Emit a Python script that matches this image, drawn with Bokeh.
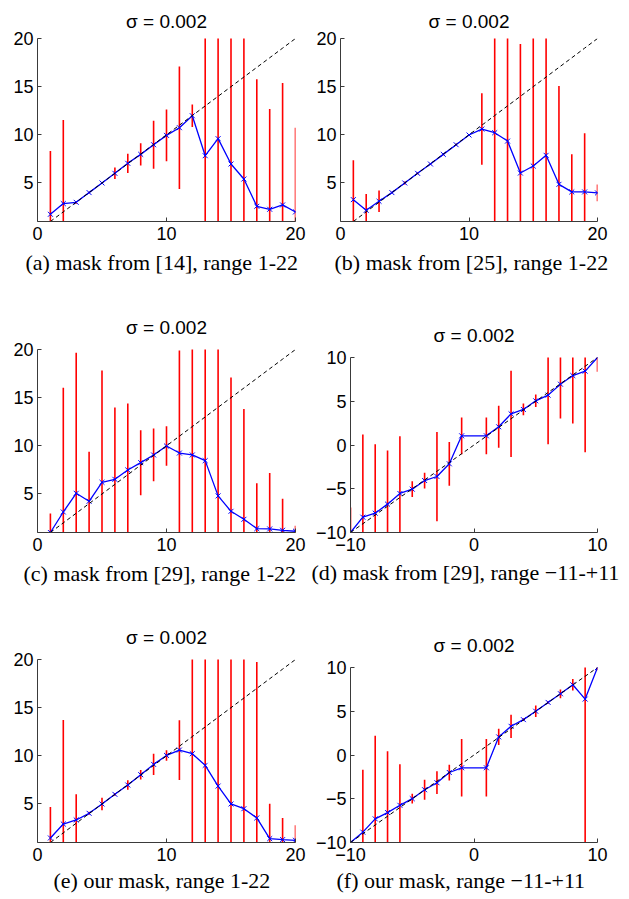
from bokeh.plotting import figure
from bokeh.layouts import row, column
from bokeh.models import Range1d, FixedTicker, Title, Spacer
from bokeh.embed import file_html
from bokeh.resources import INLINE

SIGMA_TITLE = "σ = 0.002"

# x positions
x_pos = list(range(1, 21))
x_sym = list(range(-10, 0)) + list(range(1, 11))

# tick values
ticks_x_pos = [0, 10, 20]
ticks_y_pos = [5, 10, 15, 20]
ticks_sym = [-10, 0, 10]
ticks_y_sym = [-10, -5, 0, 5, 10]

# (a) mask from [14]
a_mean = [1.75, 2.86, 2.99, 4.0, 5.0, 6.0, 7.04, 7.97, 8.97, 9.94,
          10.74, 11.98, 7.83, 9.6, 6.97, 5.41, 2.58, 2.27, 2.72, 1.99]
a_err = [6.57, 8.67, 0.15, 0.1, 0.1, 0.6, 1.0, 1.15, 2.5, 2.68,
         6.36, 1.17, 14.0, 13.0, 15.0, 16.0, 13.2, 10.4, 12.65, 8.75]

# (b) mask from [25]
b_mean = [3.27, 2.16, 3.1, 4.0, 5.0, 6.0, 6.97, 7.97, 8.97, 9.98,
          10.6, 10.22, 9.35, 6.03, 6.76, 7.87, 4.86, 4.07, 4.07, 3.97]
b_err = [4.1, 1.7, 1.12, 0.1, 0.15, 0.1, 0.1, 0.1, 0.1, 0.1,
         3.72, 12.0, 12.0, 13.4, 14.0, 13.0, 10.2, 3.9, 6.1, 0.87]

# (c) mask from [29], range 1-22
c_mean = [1.0, 3.13, 5.07, 4.24, 6.21, 6.52, 7.49, 8.25, 9.05, 9.98,
          9.25, 9.05, 8.46, 4.8, 3.2, 2.37, 1.4, 1.37, 1.23, 1.13]
c_err = [1.97, 12.9, 14.6, 5.14, 11.6, 7.47, 6.9, 3.37, 2.74, 2.05,
         10.65, 11.5, 12.0, 16.0, 13.9, 11.45, 4.72, 5.8, 3.27, 0.57]

# (d) mask from [29], range -11..+11
d_mean = [-10.0, -8.25, -7.79, -6.76, -5.54, -5.05, -4.06, -3.6, -2.15, 1.05,
          1.05, 2.08, 3.56, 4.06, 5.05, 5.7, 6.95, 7.94, 8.44, 10.0]
d_err = [2.86, 9.45, 7.89, 6.13, 6.55, 0.9, 0.9, 5.1, 2.5, 2.1,
         2.1, 2.4, 4.94, 0.67, 0.72, 5.6, 3.92, 5.48, 9.26, 1.64]

# (e) our mask, range 1-22
e_mean = [1.47, 2.92, 3.34, 4.03, 5.0, 6.0, 6.97, 8.04, 9.11, 10.04,
          10.6, 10.22, 9.01, 6.86, 5.0, 4.51, 3.55, 1.4, 1.3, 1.23]
e_err = [3.22, 10.8, 2.66, 0.15, 0.64, 0.15, 0.5, 0.5, 1.1, 0.55,
         3.1, 11.0, 12.0, 14.0, 16.0, 16.0, 16.2, 3.63, 2.25, 1.57]

# (f) our mask, range -11..+11
f_mean = [-10.0, -8.82, -7.3, -6.58, -5.75, -4.99, -3.97, -3.17, -2.0, -1.46,
          -1.46, 2.07, 3.28, 4.04, 5.0, 6.01, 7.0, 8.03, 6.39, 10.0]
f_err = [0.2, 7.13, 9.5, 7.0, 4.69, 0.55, 1.14, 1.3, 0.9, 3.28,
         3.28, 0.93, 1.33, 0.15, 0.65, 0.15, 0.5, 0.66, 17.0, 0.3]

captions = [
    "(a) mask from [14], range 1-22",
    "(b) mask from [25], range 1-22",
    "(c)  mask from [29], range 1-22",
    "(d) mask from [29], range \u221211-+11",
    "(e) our mask, range 1-22",
    "(f) our mask, range \u221211-+11",
]

AXIS_COLOR = "#3a3a3a"
MINUS_OVR = {-10: "\u221210", -5: "\u22125"}


def make_panel(x, mean, err, xr, yr, xticks, yticks, caption,
               fw, fh, bl, br, bt, bb, title_standoff, cap_offset, cap_standoff):
    p = figure(frame_width=fw, frame_height=fh,
               min_border_left=bl, min_border_right=br,
               min_border_top=bt, min_border_bottom=bb,
               x_range=Range1d(*xr), y_range=Range1d(*yr),
               output_backend="svg", toolbar_location=None, tools="")
    p.outline_line_color = None
    p.background_fill_color = "white"
    p.border_fill_color = "white"
    p.xgrid.visible = False
    p.ygrid.visible = False

    lo = [m - e for m, e in zip(mean, err)]
    hi = [m + e for m, e in zip(mean, err)]
    p.segment(x0=x, y0=lo, x1=x, y1=hi, line_color="#ff0000", line_width=1.6)
    p.line(x, mean, line_color="#0000ff", line_width=1.3)
    p.scatter(x, mean, marker="x", size=7, line_color="#0000ff", line_width=1)
    p.line(x, x, line_color="black", line_dash="4 3", line_width=1)

    for ax, tk in ((p.xaxis[0], xticks), (p.yaxis[0], yticks)):
        ax.ticker = FixedTicker(ticks=tk)
        ax.axis_line_color = AXIS_COLOR
        ax.axis_line_width = 1
        ax.major_tick_line_color = AXIS_COLOR
        ax.major_tick_in = 4
        ax.major_tick_out = 0
        ax.minor_tick_line_color = None
        ax.major_label_text_font = "Liberation Sans"
        ax.major_label_text_font_size = "18px"
        ax.major_label_text_color = "black"
        ax.major_label_overrides = {k: v for k, v in MINUS_OVR.items() if k in tk}
    p.xaxis[0].major_label_standoff = 5
    p.yaxis[0].major_label_standoff = 4

    p.title.text = SIGMA_TITLE
    p.title.align = "center"
    p.title.text_font = "Liberation Sans"
    p.title.text_font_size = "19px"
    p.title.text_font_style = "normal"
    p.title.text_color = "black"
    p.title.standoff = title_standoff

    p.add_layout(Title(text=caption, align="left", offset=cap_offset,
                       standoff=cap_standoff,
                       text_font="Liberation Serif", text_font_size="22px",
                       text_font_style="normal", text_color="black"), "below")
    return p


pa = make_panel(x_pos, a_mean, a_err, (0, 20), (1, 20), ticks_x_pos, ticks_y_pos, captions[0],
                258, 183, 37, 13, 38, 77, 14, -12, 10)
pb = make_panel(x_pos, b_mean, b_err, (0, 20), (1, 20), ticks_x_pos, ticks_y_pos, captions[1],
                257, 183, 32, 32, 38, 77, 14, -6, 10)
pc = make_panel(x_pos, c_mean, c_err, (0, 20), (1, 20), ticks_x_pos, ticks_y_pos, captions[2],
                258, 183, 37, 13, 51, 73, 24, -14, 10)
pd = make_panel(x_sym, d_mean, d_err, (-10, 10), (-10, 10), ticks_sym, ticks_y_sym, captions[3],
                247, 175, 42, 32, 51, 73, 24, -39, 8)
pe = make_panel(x_pos, e_mean, e_err, (0, 20), (1, 20), ticks_x_pos, ticks_y_pos, captions[4],
                258, 183, 37, 13, 54, 56, 24, 16, 4)
pf = make_panel(x_sym, f_mean, f_err, (-10, 10), (-10, 10), ticks_sym, ticks_y_sym, captions[5],
                247, 175, 42, 32, 54, 56, 24, -14, 4)

layout = column(
    row(pa, pb),
    row(pc, column(Spacer(width=321, height=8), pd)),
    row(pe, column(Spacer(width=321, height=8), pf)),
)

open("out.html", "w").write(file_html(layout, INLINE))
